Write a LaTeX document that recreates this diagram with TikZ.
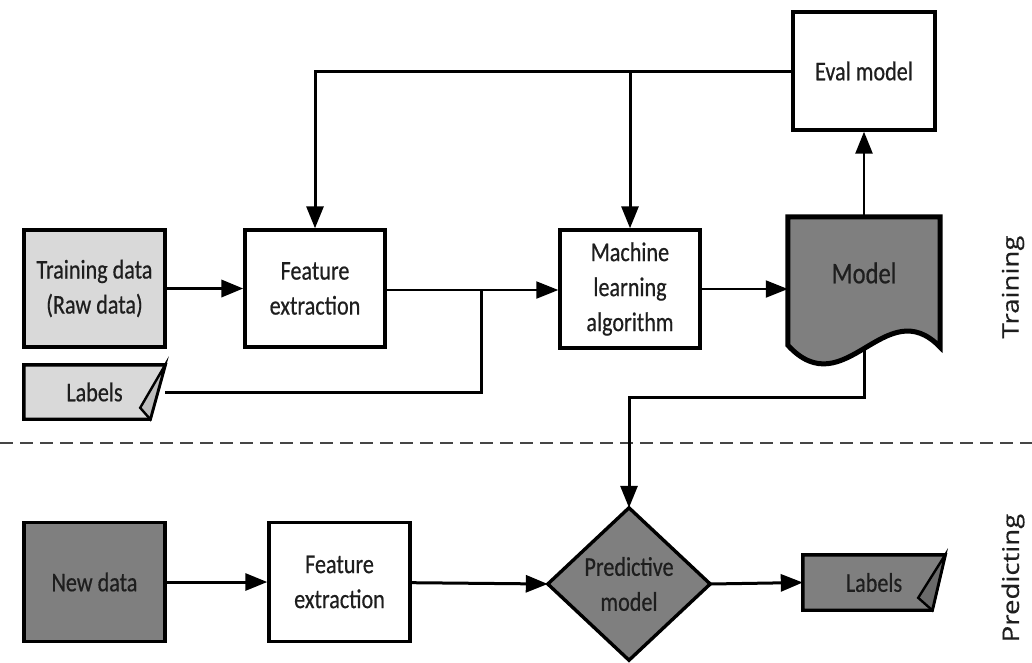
\documentclass[tikz,border=0pt]{standalone}
\usepackage{fontspec}
\setmainfont{Carlito}
\newfontfamily\boxfont[FakeStretch=0.82,FakeBold=0.5]{Carlito}
\newfontfamily\sidefont[FakeStretch=1.2,FakeBold=0.4]{Open Sans}
\usetikzlibrary{arrows.meta,calc}
\definecolor{lightfill}{HTML}{D9D9D9}
\definecolor{darkfill}{HTML}{7F7F7F}
\definecolor{foldlight}{HTML}{BDBDBD}
\definecolor{folddark}{HTML}{6A6A6A}
\definecolor{txt}{HTML}{1E1E1E}
\definecolor{sepcol}{HTML}{454545}
\tikzset{
  procbox/.style={draw=black, line width=3.4pt, inner sep=0pt, align=center, text=txt,
    font=\boxfont\fontsize{27}{35}\selectfont},
  ghost/.style={inner sep=0pt, align=center, text=txt,
    font=\boxfont\fontsize{27}{35}\selectfont},
  conn/.style={line width=3pt, -{Triangle[length=22pt,width=17pt]}},
  connthin/.style={line width=2pt, -{Triangle[length=22pt,width=17pt]}},
  plainconn/.style={line width=3pt},
  sidelabel/.style={rotate=90, text=txt, font=\sidefont\fontsize{23}{26}\selectfont},
  shapeline/.style={draw=black, line width=3.4pt, line join=miter},
}
\begin{document}
\begin{tikzpicture}[x=1pt,y=-1pt]
\useasboundingbox (0,0) rectangle (1032,662);

% ---------- training row ----------
\node[procbox, fill=lightfill, minimum width=141pt, minimum height=117pt] (td) at (94.5,288.5) {Training data\\(Raw data)};
\node[procbox, fill=white, minimum width=140pt, minimum height=117pt] (fe1) at (315,288.5) {Feature\\extraction};
\node[procbox, fill=white, minimum width=140pt, minimum height=118pt] (ml) at (630,289) {Machine\\learning\\algorithm};
\node[procbox, fill=white, minimum width=142pt, minimum height=118pt] (eval) at (864,71) {Eval model};

% model (document shape)
\node[inner sep=0pt, minimum width=152pt, minimum height=130pt] (model) at (864,282) {};
\path[shapeline, line width=5pt, fill=darkfill]
  (model.north west) -- (model.north east) -- (model.south east)
  .. controls ($(model.south east)+(-55,-57)$) and ($(model.south west)+(57,60)$) .. ($(model.south west)+(0,-2)$)
  -- cycle;
\node[ghost, font=\boxfont\fontsize{30}{36}\selectfont] (modeltext) at ($(model.center)+(0,-9)$) {Model};

% labels (training)
\node[inner sep=0pt, minimum width=141pt, minimum height=54pt] (lab1) at (94.5,392) {};
\path[shapeline, fill=lightfill]
  (lab1.north west) -- (lab1.north east) -- ($(lab1.south east)+(-15,0)$) -- (lab1.south west) -- cycle;
\path[shapeline, line width=2.4pt, fill=foldlight]
  (lab1.north east) -- ($(lab1.north east)+(-25,43)$) -- ($(lab1.south east)+(-15,0)$) -- cycle;
\node[ghost] (lab1text) at (lab1.center) {Labels};

\coordinate (j) at (481,290);
\coordinate (m1) at (864,397);

% ---------- separator ----------
\coordinate (sepL) at (0,443);
\coordinate (sepR) at (1032,443);
\draw[sepcol, line width=2.6pt, dash pattern=on 13pt off 7pt] (sepL) -- (sepR);

% ---------- predicting row ----------
\node[procbox, fill=darkfill, minimum width=141pt, minimum height=119pt] (nd) at (94.5,582) {New data};
\node[procbox, fill=white, minimum width=141pt, minimum height=119pt] (fe2) at (339.5,582) {Feature\\extraction};

\node[inner sep=0pt, minimum width=162pt, minimum height=152pt] (pred) at (629,584) {};
\path[shapeline, fill=darkfill] (pred.north) -- (pred.east) -- (pred.south) -- (pred.west) -- cycle;
\node[ghost] (predtext) at (pred.center) {Predictive\\model};

\node[inner sep=0pt, minimum width=142pt, minimum height=55pt] (lab2) at (874,582.5) {};
\path[shapeline, fill=darkfill]
  (lab2.north west) -- (lab2.north east) -- ($(lab2.south east)+(-13,0)$) -- (lab2.south west) -- cycle;
\path[shapeline, line width=2.4pt, fill=folddark]
  (lab2.north east) -- ($(lab2.north east)+(-27,43)$) -- ($(lab2.south east)+(-13,0)$) -- cycle;
\node[ghost] (lab2text) at (lab2.center) {Labels};

% ---------- side labels ----------
\node[sidelabel] (trainlbl) at (1013,287) {Training};
\node[sidelabel] (predlbl) at (1013,578) {Predicting};

% ---------- connectors ----------
\draw[conn, line width=3.6pt] (td) -- (fe1);
\draw[connthin] (fe1.east |- j) -- (j) -- (ml.west |- j);
\draw[plainconn] (lab1.east) -| (j);
\draw[connthin] (ml.east) -- (ml.east -| model.west);
\draw[conn, line width=2.6pt] (model.north) -- (eval.south);
\draw[conn] (eval.west) -| (fe1.north);
\draw[conn] (eval.west -| ml.north) -- (ml.north);
\draw[conn] (model.south) -- (m1) -| (pred.north);
\draw[conn] (nd) -- (fe2);
\draw[conn] (fe2) -- (pred.west);
\draw[conn] (pred.east) -- (lab2.west);
\end{tikzpicture}
\end{document}
